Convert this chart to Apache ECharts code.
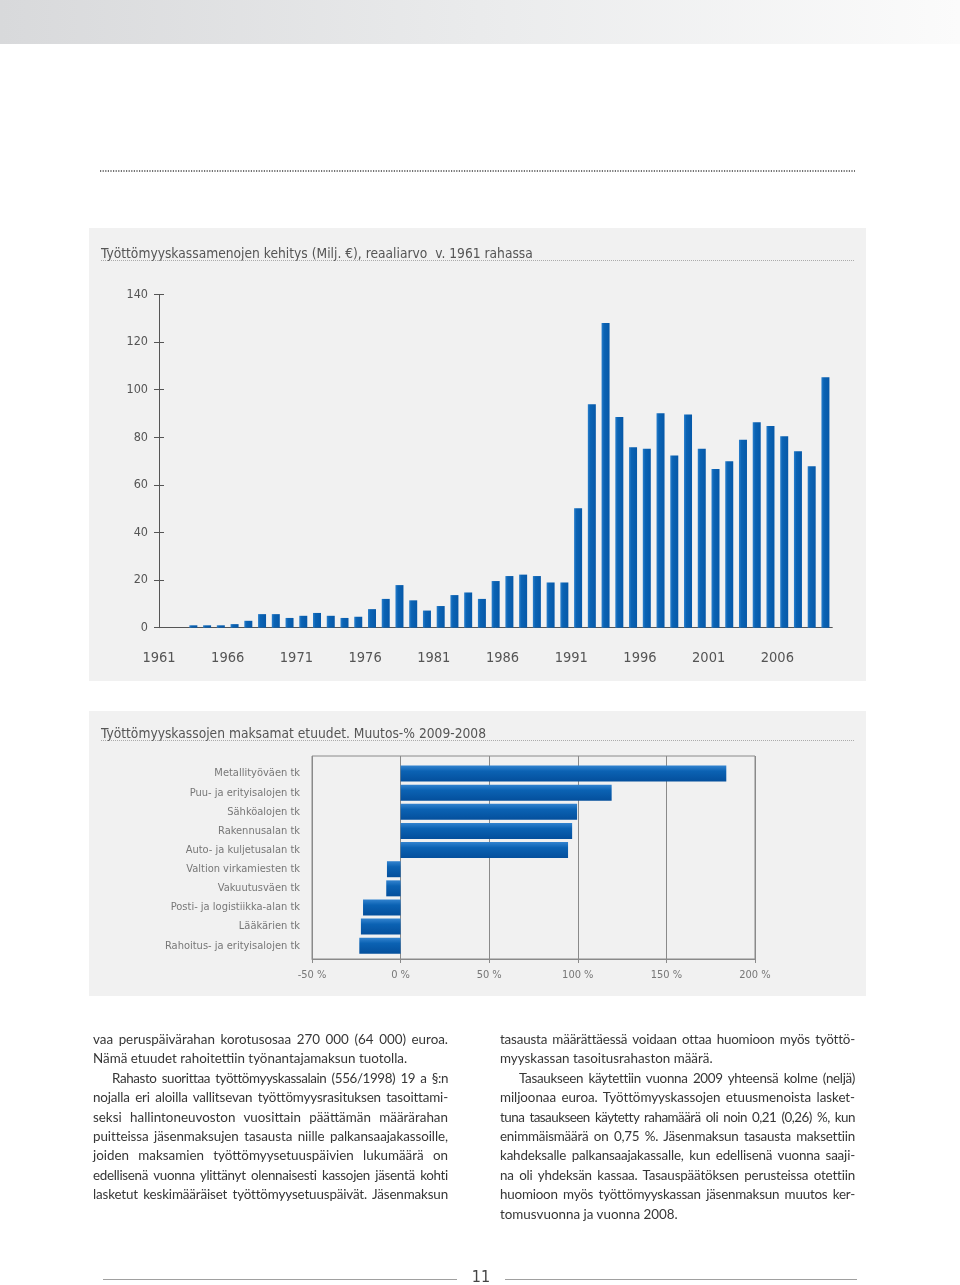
<!DOCTYPE html>
<html><head><meta charset="utf-8">
<script src="https://cdn.jsdelivr.net/npm/echarts@6/dist/echarts.min.js"></script>
<style>
html,body{margin:0;padding:0;background:#fff;}
#chart{position:absolute;left:0;top:0;width:960px;height:1285px;}
.col{position:absolute;top:1030px;width:355px;font-family:Lato,'Open Sans',sans-serif;font-size:13.4px;line-height:19.4px;color:#363636;}
.ln{white-space:nowrap;height:19.4px;}
</style></head><body>
<div id="chart"></div>
<div class="col" id="colL" style="left:93px"></div>
<div class="col" id="colR" style="left:500px"></div>
<script>
// ---- Data ----
const years = ['1961','1962','1963','1964','1965','1966','1967','1968','1969','1970',
  '1971','1972','1973','1974','1975','1976','1977','1978','1979','1980',
  '1981','1982','1983','1984','1985','1986','1987','1988','1989','1990',
  '1991','1992','1993','1994','1995','1996','1997','1998','1999','2000',
  '2001','2002','2003','2004','2005','2006','2007','2008','2009'];
const expenditure = [null, null, 1.0, 1.0, 1.0, 1.5, 2.9, 5.7, 5.7, 4.1,
  5.0, 6.2, 5.0, 4.1, 4.6, 7.8, 12.1, 17.9, 11.5, 7.2,
  9.1, 13.7, 14.8, 12.1, 19.6, 21.7, 22.3, 21.7, 19.0, 19.0,
  50.2, 93.9, 128.0, 88.5, 75.8, 75.2, 90.1, 72.4, 89.6, 75.2,
  66.7, 69.9, 79.0, 86.3, 84.7, 80.4, 74.1, 67.8, 105.2];
const funds = ['Metallityöväen tk','Puu- ja erityisalojen tk','Sähköalojen tk','Rakennusalan tk',
  'Auto- ja kuljetusalan tk','Valtion virkamiesten tk','Vakuutusväen tk',
  'Posti- ja logistiikka-alan tk','Lääkärien tk','Rahoitus- ja erityisalojen tk'];
const changePct = [183.8, 119.1, 99.6, 96.8, 94.5, -7.7, -8.1, -21.2, -22.4, -23.3];
const title1 = 'Työttömyyskassamenojen kehitys (Milj. €), reaaliarvo  v. 1961 rahassa';
const title2 = 'Työttömyyskassojen maksamat etuudet. Muutos-% 2009-2008';
const pageNumber = '11';
const textLeft = [
  ['vaa peruspäivärahan korotusosaa 270 000 (64 000) euroa.', 1, 0],
  ['Nämä etuudet rahoitettiin työnantajamaksun tuotolla.', 0, 0],
  ['Rahasto suorittaa työttömyyskassalain (556/1998) 19 a §:n', 1, 1],
  ['nojalla eri aloilla vallitsevan työttömyysrasituksen tasoittami-', 1, 0],
  ['seksi hallintoneuvoston vuosittain päättämän määrärahan', 1, 0],
  ['puitteissa jäsenmaksujen tasausta niille palkansaajakassoille,', 1, 0],
  ['joiden maksamien työttömyysetuuspäivien lukumäärä on', 1, 0],
  ['edellisenä vuonna ylittänyt olennaisesti kassojen jäsentä kohti', 1, 0],
  ['lasketut keskimääräiset työttömyysetuuspäivät. Jäsenmaksun', 1, 0]
];
const textRight = [
  ['tasausta määrättäessä voidaan ottaa huomioon myös työttö-', 1, 0],
  ['myyskassan tasoitusrahaston määrä.', 0, 0],
  ['Tasaukseen käytettiin vuonna 2009 yhteensä kolme (neljä)', 1, 1],
  ['miljoonaa euroa. Työttömyyskassojen etuusmenoista lasket-', 1, 0],
  ['tuna tasaukseen käytetty rahamäärä oli noin 0,21 (0,26) %, kun', 1, 0],
  ['enimmäismäärä on 0,75 %. Jäsenmaksun tasausta maksettiin', 1, 0],
  ['kahdeksalle palkansaajakassalle, kun edellisenä vuonna saaji-', 1, 0],
  ['na oli yhdeksän kassaa. Tasauspäätöksen perusteissa otettiin', 1, 0],
  ['huomioon myös työttömyyskassan jäsenmaksun muutos ker-', 1, 0],
  ['tomusvuonna ja vuonna 2008.', 0, 0]
];

// ---- Body text (justified line by line) ----
function fillCol(id, lines) {
  const col = document.getElementById(id);
  const W = 355, IND = 19, MINWS = 2.2;
  lines.forEach(([t, just, ind]) => {
    const d = document.createElement('div');
    d.className = 'ln';
    if (ind) d.style.paddingLeft = IND + 'px';
    const s = document.createElement('span');
    s.textContent = t;
    d.appendChild(s);
    col.appendChild(d);
    if (just) {
      const target = W - (ind ? IND : 0);
      const w = s.getBoundingClientRect().width;
      const n = (t.match(/ /g) || []).length;
      if (n > 0) {
        let ws = (target - w) / n;
        if (ws < MINWS) {
          const ls = (target - w - MINWS * n) / (t.length - 1);
          s.style.letterSpacing = ls + 'px';
          const w2 = s.getBoundingClientRect().width;
          ws = (target - w2) / n;
        }
        s.style.wordSpacing = ws + 'px';
      }
    }
  });
}
fillCol('colL', textLeft);
fillCol('colR', textRight);

// ---- Chart ----
const FONT = "'Liberation Sans Narrow','DejaVu Sans Condensed',Roboto,sans-serif";
const chart = echarts.init(document.getElementById('chart'), null, {renderer: 'canvas'});
const barV = new echarts.graphic.LinearGradient(0, 0, 1, 0, [
  {offset: 0, color: '#2a7fcc'}, {offset: 0.3, color: '#0a63b4'}, {offset: 1, color: '#0658a8'}]);
const barH = new echarts.graphic.LinearGradient(0, 0, 0, 1, [
  {offset: 0, color: '#3283cf'}, {offset: 0.35, color: '#0b62b3'}, {offset: 1, color: '#044f9c'}]);

chart.setOption({
  animation: false,
  graphic: [
    {type: 'rect', z: -10, shape: {x: 0, y: 0, width: 960, height: 44},
      style: {fill: new echarts.graphic.LinearGradient(0, 0, 1, 0, [
        {offset: 0, color: '#d8d9db'}, {offset: 0.5, color: '#eaebec'}, {offset: 1, color: '#fbfbfb'}])}},
    {type: 'line', z: -10, shape: {x1: 100, y1: 171, x2: 855, y2: 171},
      style: {stroke: '#444', lineWidth: 1.5, lineDash: [1.2, 1.4]}},
    {type: 'rect', z: -10, shape: {x: 89, y: 228, width: 777, height: 453}, style: {fill: '#f1f1f1'}},
    {type: 'rect', z: -10, shape: {x: 89, y: 711, width: 777, height: 285}, style: {fill: '#f1f1f1'}},
    {type: 'text', z: 10, x: 101, y: 254, style: {text: title1, font: '13.7px ' + FONT, fill: '#555', textVerticalAlign: 'middle'}},
    {type: 'line', z: 10, shape: {x1: 101, y1: 260.5, x2: 855, y2: 260.5}, style: {stroke: '#999', lineWidth: 0.8, lineDash: [1, 1]}},
    {type: 'text', z: 10, x: 101, y: 734, style: {text: title2, font: '13.7px ' + FONT, fill: '#555', textVerticalAlign: 'middle'}},
    {type: 'line', z: 10, shape: {x1: 101, y1: 740.5, x2: 855, y2: 740.5}, style: {stroke: '#999', lineWidth: 0.8, lineDash: [1, 1]}},
    {type: 'line', shape: {x1: 103, y1: 1279.5, x2: 457, y2: 1279.5}, style: {stroke: '#888', lineWidth: 0.8}},
    {type: 'line', shape: {x1: 505, y1: 1279.5, x2: 857, y2: 1279.5}, style: {stroke: '#888', lineWidth: 0.8}},
    {type: 'text', x: 481, y: 1278, style: {text: pageNumber, font: '16px ' + FONT, fill: '#444', textAlign: 'center', textVerticalAlign: 'middle'}}
  ],
  grid: [
    {left: 159, right: 127.7, top: 294.5, bottom: 657.3},
    {left: 312, right: 205, top: 756, bottom: 326, show: true, borderColor: '#8a8a8a', borderWidth: 1, backgroundColor: 'transparent'},
    {left: 312, right: 205, top: 764, bottom: 329.7}
  ],
  xAxis: [
    {type: 'category', gridIndex: 0, data: years, boundaryGap: true,
      axisLine: {lineStyle: {color: '#555', width: 1}},
      axisTick: {interval: 4, length: 5, lineStyle: {color: '#555'}},
      axisLabel: {interval: 4, margin: 23, color: '#555', fontSize: 14.5, fontFamily: FONT, align: 'center', padding: [0, 13.74, 0, 0]}},
    {type: 'category', gridIndex: 0, data: years, boundaryGap: true, position: 'bottom',
      axisLine: {show: false}, axisLabel: {show: false},
      axisTick: {interval: 4, inside: true, length: 5, lineStyle: {color: '#555'}}},
    {type: 'value', gridIndex: 1, min: -50, max: 200, interval: 50,
      axisLine: {show: true, lineStyle: {color: '#8a8a8a'}},
      axisTick: {show: true, length: 4, lineStyle: {color: '#8a8a8a'}},
      splitLine: {show: true, lineStyle: {color: '#8a8a8a', width: 1}},
      axisLabel: {formatter: '{value} %', margin: 11, color: '#777', fontSize: 11, fontFamily: FONT}},
    {type: 'value', gridIndex: 2, min: -50, max: 200, show: false}
  ],
  yAxis: [
    {type: 'value', gridIndex: 0, min: 0, max: 140, interval: 20, position: 'left',
      axisLine: {show: true, lineStyle: {color: '#555'}},
      axisTick: {show: true, length: 5, lineStyle: {color: '#555'}},
      splitLine: {show: false},
      axisLabel: {margin: 11, color: '#555', fontSize: 12.5, fontFamily: FONT}},
    {type: 'value', gridIndex: 0, min: 0, max: 140, interval: 20, position: 'left',
      axisLine: {show: false}, splitLine: {show: false}, axisLabel: {show: false},
      axisTick: {show: true, inside: true, length: 5, lineStyle: {color: '#555'}}},
    {type: 'value', gridIndex: 1, show: false},
    {type: 'category', gridIndex: 2, data: funds, inverse: true,
      axisLine: {show: false}, axisTick: {show: false}, splitLine: {show: false},
      axisLabel: {margin: 12, color: '#777', fontSize: 11, fontFamily: FONT}}
  ],
  series: [
    {type: 'bar', xAxisIndex: 0, yAxisIndex: 0, data: expenditure, barWidth: 8,
      itemStyle: {color: barV}},
    {type: 'bar', xAxisIndex: 3, yAxisIndex: 3, data: changePct, barWidth: 16,
      itemStyle: {color: barH}}
  ]
});
</script>
</body></html>
